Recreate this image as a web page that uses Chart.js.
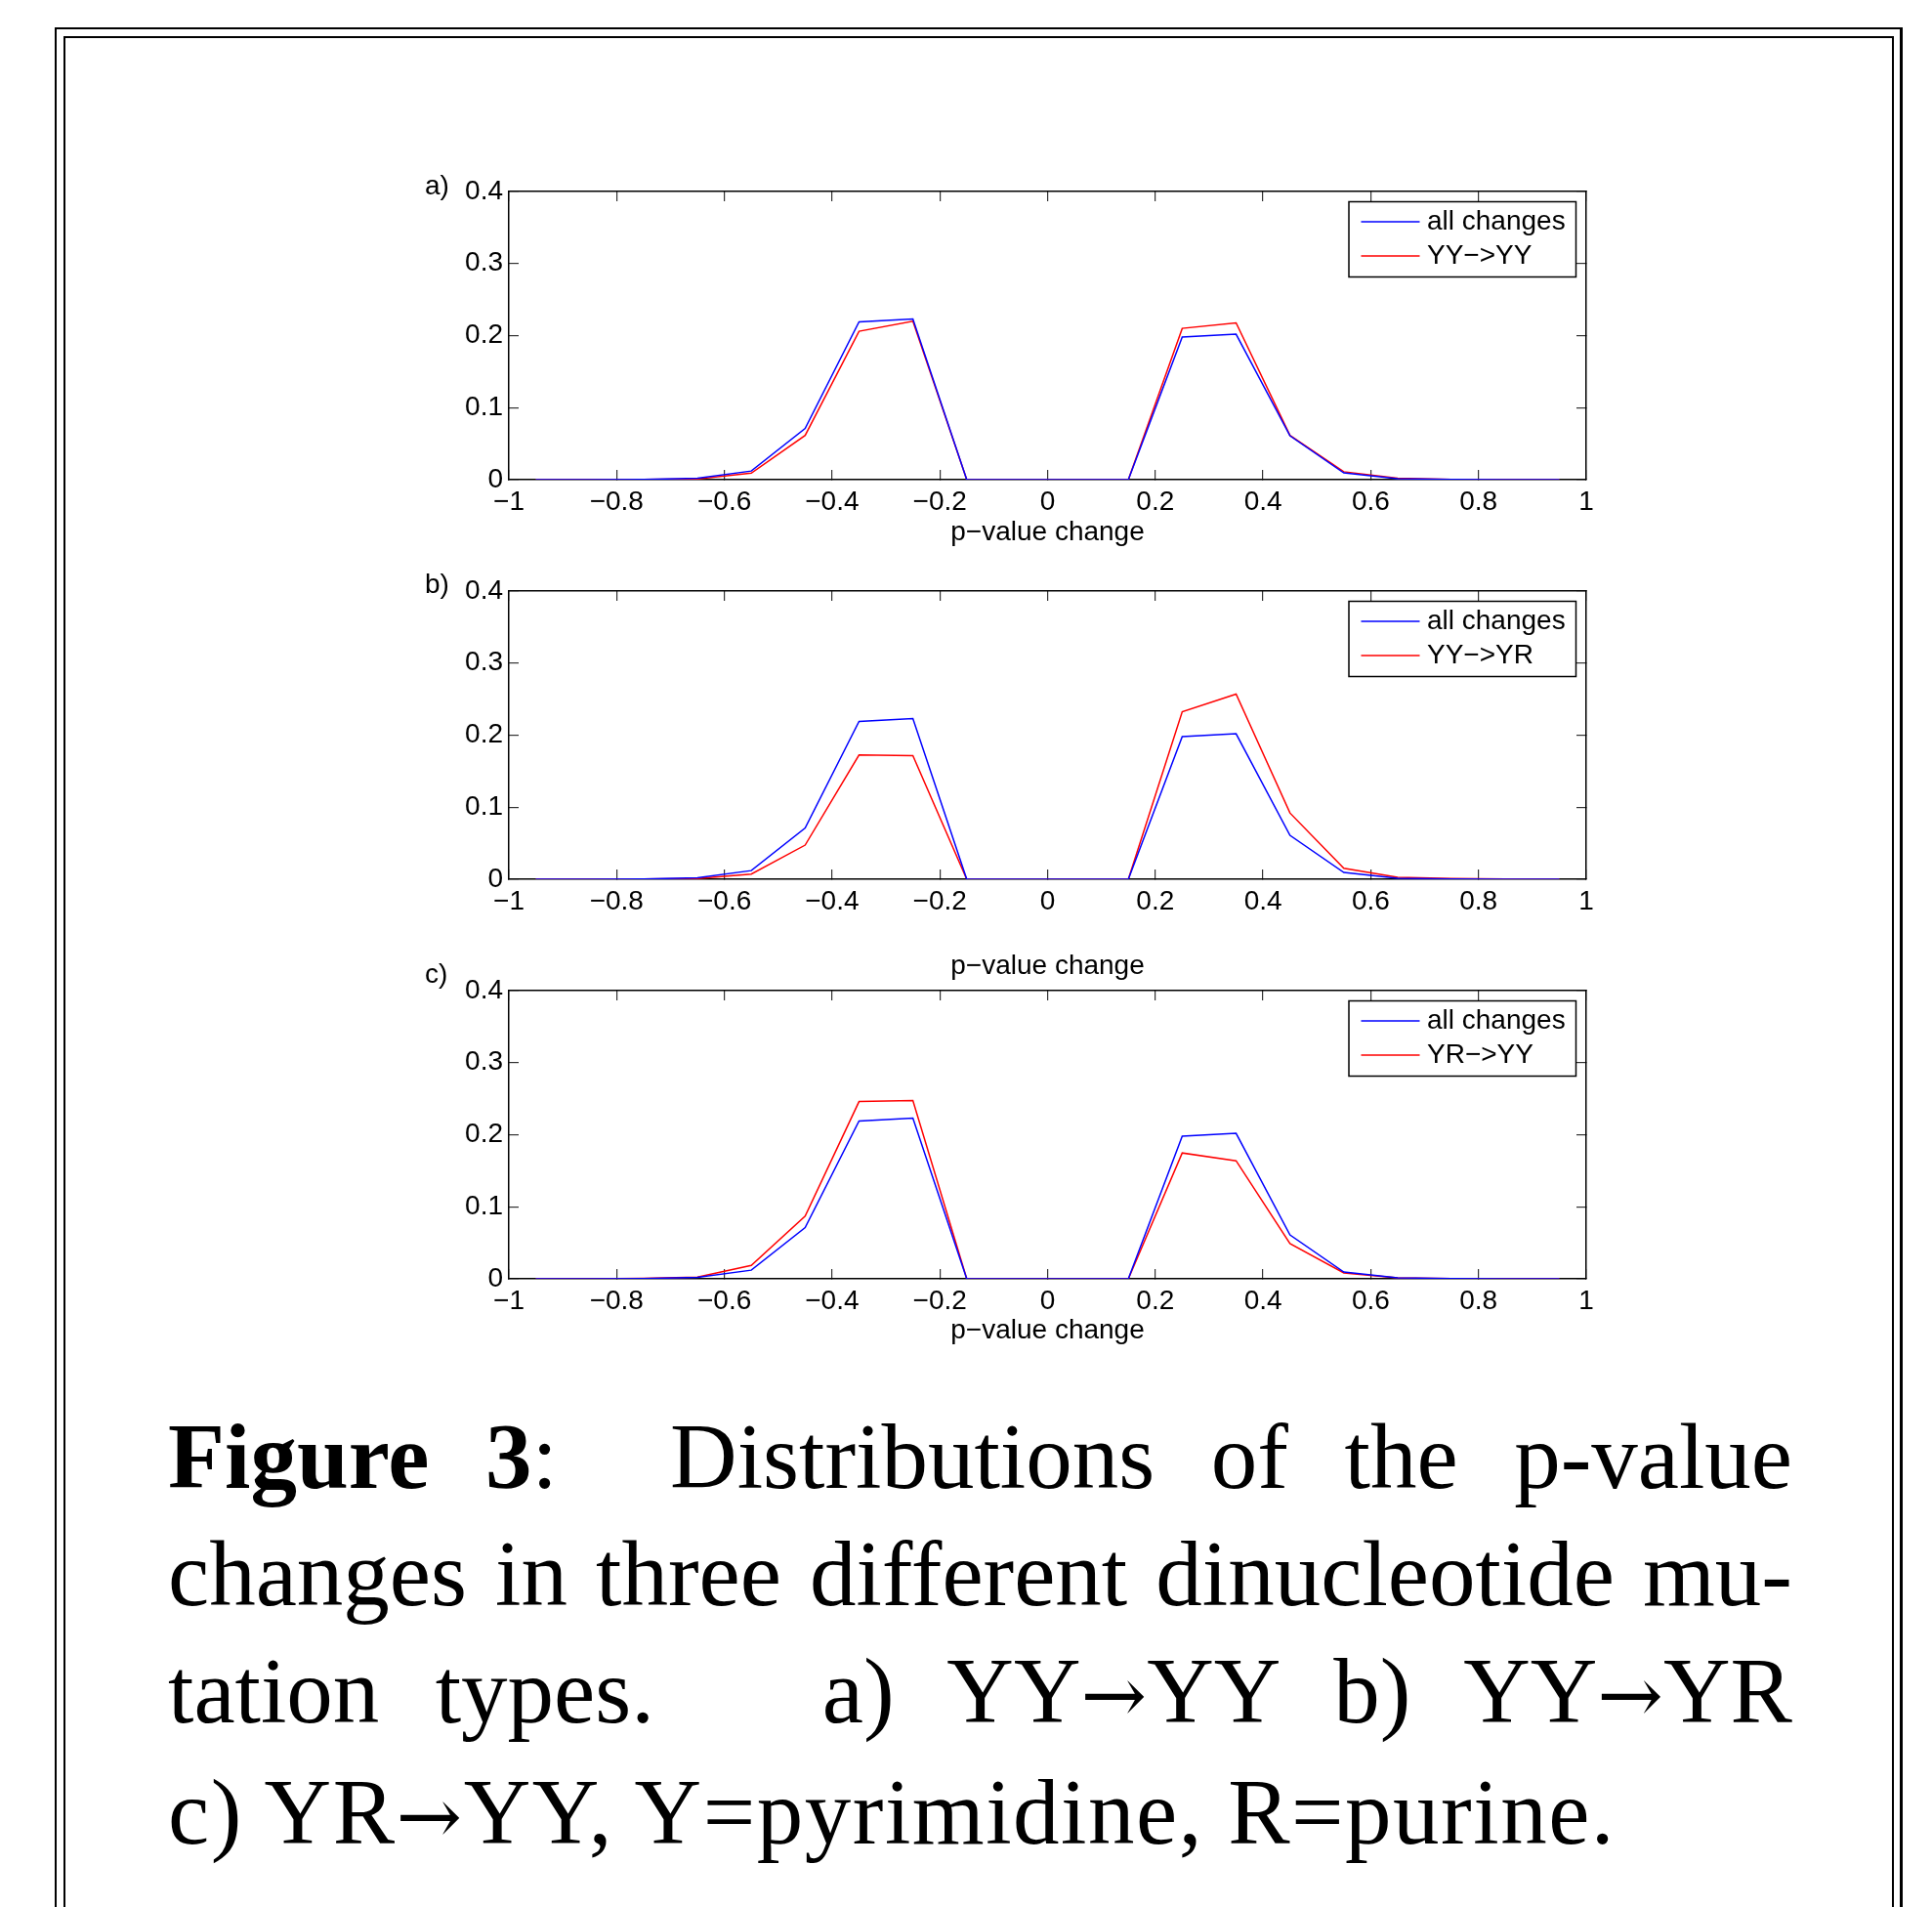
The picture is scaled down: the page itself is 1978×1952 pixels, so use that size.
<!DOCTYPE html>
<html>
<head>
<meta charset="utf-8">
<script src="https://cdn.jsdelivr.net/npm/chart.js@4.4.0/dist/chart.umd.min.js"></script>
<style>
  html, body { margin: 0; padding: 0; background: #fff; }
  body { width: 1978px; height: 1952px; position: relative; overflow: hidden; }
  .frame { position: absolute; border: 2px solid #000; box-sizing: border-box; }
  #outer { left: 56px; top: 28px; width: 1892px; height: 2100px; border-right-width: 3px; }
  #inner { left: 65px; top: 37px; width: 1874px; height: 2100px; }
  canvas.panel { position: absolute; left: 400px; }
  .tag { position: absolute; left: 435px; font: 28px/28px "Liberation Sans", Arial, sans-serif; color: #000; }
  #caption { position: absolute; left: 172px; top: 1431px; width: 1663px;
             font: 95px/120px "Liberation Serif", "Times New Roman", serif; color: #000; }
  #caption div { text-align: justify; text-align-last: justify; }
  #caption div.last { text-align-last: left; letter-spacing: 1.5px; }
  #caption .arr { font-family: "DejaVu Serif", serif; font-size: 0.85em; }
</style>
</head>
<body>
<div class="frame" id="outer"></div>
<div class="frame" id="inner"></div>

<div id="caption">
  <div><b>Figure 3</b>:&nbsp; Distributions of the p-value</div>
  <div>changes in three different dinucleotide mu-</div>
  <div>tation types. &nbsp; a) YY<span class="arr">→</span>YY b) YY<span class="arr">→</span>YR</div>
  <div class="last">c) YR<span class="arr">→</span>YY, Y=pyrimidine, R=purine.</div>
</div>

<script>
// bin centres of the p-value change histogram
const binCenters = [-0.95, -0.85, -0.75, -0.65, -0.55, -0.45, -0.35, -0.25, -0.15, -0.05,
                    0.05, 0.15, 0.25, 0.35, 0.45, 0.55, 0.65, 0.75, 0.85, 0.95];

const allChanges = [0, 0, 0.0003, 0.002, 0.012, 0.071, 0.219, 0.223, 0, 0,
                    0, 0, 0.198, 0.202, 0.061, 0.0095, 0.0015, 0.0004, 0.0001, 0];
const yyToYy = [0, 0, 0.0002, 0.001, 0.009, 0.0615, 0.206, 0.220, 0, 0,
                0, 0, 0.210, 0.2176, 0.0615, 0.011, 0.002, 0.0005, 0.0001, 0];
const yyToYr = [0, 0, 0.0002, 0.001, 0.0072, 0.0474, 0.1725, 0.1716, 0, 0,
                0, 0, 0.2325, 0.257, 0.092, 0.0153, 0.0027, 0.001, 0.0002, 0];
const yrToYy = [0, 0.0001, 0.0008, 0.0023, 0.0186, 0.087, 0.246, 0.2475, 0, 0,
                0, 0, 0.1747, 0.1638, 0.0489, 0.0081, 0.0014, 0.0003, 0.0001, 0];

const xTickLabels = ['\u22121', '\u22120.8', '\u22120.6', '\u22120.4', '\u22120.2', '0',
                     '0.2', '0.4', '0.6', '0.8', '1'];
const yTickLabels = ['0', '0.1', '0.2', '0.3', '0.4'];
const xTitle = 'p\u2212value change';
const baseName = 'all changes';
const panelTags = ['a)', 'b)', 'c)'];
const panelNames = ['YY\u2212>YY', 'YY\u2212>YR', 'YR\u2212>YY'];
const panelSeries = [yyToYy, yyToYr, yrToYy];

// where each axes box sits on the page
const panelTop = [196, 605, 1014];
const panelTitleOffset = [54.5, 89, 53.5];
const tagTop = [176, 584, 983];
const plotHeight = 295;
const padTop = 34;

Chart.defaults.font.family = '"Liberation Sans", Arial, sans-serif';
Chart.defaults.font.size = 28;
Chart.defaults.color = '#000';

const boxLegend = {
  id: 'boxLegend',
  afterDatasetsDraw(chart) {
    const { ctx, chartArea } = chart;
    const left = chartArea.right - 243;
    const top = chartArea.top + 10.5;
    ctx.save();
    ctx.fillStyle = '#fff';
    ctx.fillRect(left, top, 232.5, 77);
    ctx.strokeStyle = '#000';
    ctx.lineWidth = 1.5;
    ctx.strokeRect(left, top, 232.5, 77);
    chart.data.datasets.forEach((ds, i) => {
      const y = top + 20.5 + i * 35;
      ctx.strokeStyle = ds.borderColor;
      ctx.lineWidth = ds.borderWidth;
      ctx.beginPath();
      ctx.moveTo(left + 12.5, y);
      ctx.lineTo(left + 72.5, y);
      ctx.stroke();
      ctx.fillStyle = '#000';
      ctx.font = '28px "Liberation Sans", Arial, sans-serif';
      ctx.textBaseline = 'middle';
      ctx.textAlign = 'left';
      ctx.fillText(ds.label, left + 80, y);
    });
    ctx.restore();
  },
};

function pointsOf(values) {
  return binCenters.map((x, i) => ({ x: x, y: values[i] }));
}

function drawPanel(i) {
  const axisHeight = panelTitleOffset[i] + 16.8;
  const height = Math.ceil(padTop + plotHeight + axisHeight + 10);
  const padBottom = height - padTop - plotHeight - axisHeight;

  const canvas = document.createElement('canvas');
  canvas.className = 'panel';
  canvas.width = 1264;
  canvas.height = height;
  canvas.style.top = (panelTop[i] - padTop) + 'px';
  document.body.appendChild(canvas);

  const tag = document.createElement('div');
  tag.className = 'tag';
  tag.style.top = tagTop[i] + 'px';
  tag.textContent = panelTags[i];
  document.body.appendChild(tag);

  const grid = { drawOnChartArea: false, tickLength: -10, color: '#333', lineWidth: 1.2 };
  const border = { display: true, color: '#000', width: 1.5 };

  new Chart(canvas, {
    type: 'line',
    data: {
      datasets: [
        { label: baseName, data: pointsOf(allChanges), borderColor: '#0000ff', borderWidth: 1.5,
          pointRadius: 0, tension: 0, fill: false },
        { label: panelNames[i], data: pointsOf(panelSeries[i]), borderColor: '#ff0000', borderWidth: 1.5,
          pointRadius: 0, tension: 0, fill: false },
      ],
    },
    options: {
      responsive: false,
      animation: false,
      layout: { padding: { left: 0, right: 40, top: padTop, bottom: padBottom } },
      plugins: { legend: { display: false }, tooltip: { enabled: false } },
      scales: {
        x: {
          type: 'linear', position: 'bottom', min: -1, max: 1,
          grid: grid, border: border,
          ticks: { stepSize: 0.2, padding: 16, autoSkip: false, maxRotation: 0,
                   callback: (v, idx) => xTickLabels[idx] },
          title: { display: true, text: xTitle, padding: 0, font: { size: 28 } },
          afterFit: (s) => { s.height = axisHeight; },
        },
        x2: {
          type: 'linear', position: 'top', min: -1, max: 1,
          grid: grid, border: border,
          ticks: { stepSize: 0.2, display: false },
          afterFit: (s) => { s.height = 0; },
        },
        y: {
          type: 'linear', position: 'left', min: 0, max: 0.4,
          grid: grid, border: border,
          ticks: { stepSize: 0.1, padding: 16, callback: (v, idx) => yTickLabels[idx] },
          afterFit: (s) => { s.width = 121; },
        },
        y2: {
          type: 'linear', position: 'right', min: 0, max: 0.4,
          grid: grid, border: border,
          ticks: { stepSize: 0.1, display: false },
          afterFit: (s) => { s.width = 0; },
        },
      },
    },
    plugins: [boxLegend],
  });
}

for (let i = 0; i < 3; i++) {
  drawPanel(i);
}
</script>
</body>
</html>
